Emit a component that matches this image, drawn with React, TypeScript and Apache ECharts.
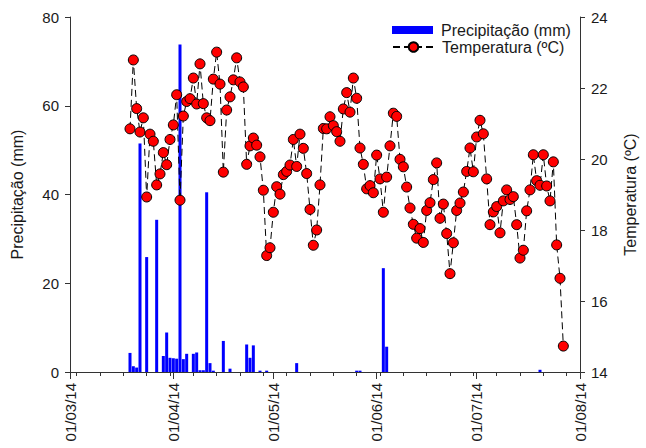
import React, { useEffect, useRef } from 'react';
import * as echarts from 'echarts';

// x axis: daily categories from 01/03/2014 to 01/08/2014
const AXIS_START = [2014, 2, 1]; // year, month(0-based), day
const AXIS_END = [2014, 7, 1];
const SERIES_START = [2014, 2, 19]; // first observation

const precipLabel = 'Precipitação (mm)';
const tempLabel = 'Temperatura (ºC)';

// daily mean temperature (ºC), 19/03/2014 ... 27/07/2014
const temperatura = [
  20.85, 22.79, 21.42, 20.76, 21.16, 18.93, 20.7, 20.5, 19.27, 19.58,
  20.18, 19.84, 20.55, 20.96, 21.81, 18.84, 21.21, 21.62, 21.7, 22.28,
  21.55, 22.68, 21.56, 21.16, 21.08, 22.25, 23.01, 22.11, 19.63, 21.38,
  21.75, 22.23, 22.85, 22.17, 22.03, 19.85, 20.37, 20.59, 20.39, 20.06,
  19.12, 17.28, 17.5, 18.5, 19.22, 19.01, 19.56, 19.65, 19.83, 20.55,
  19.79, 20.7, 20.3, 19.59, 18.58, 17.57, 18.0, 19.27, 20.86, 20.85,
  21.19, 20.94, 20.77, 20.5, 21.41, 21.87, 21.32, 22.28, 21.71, 20.31,
  19.85, 19.16, 19.25, 19.05, 20.11, 19.44, 18.5, 19.49, 20.37, 21.29,
  21.2, 19.99, 19.78, 19.21, 18.62, 18.16, 17.77, 18.04, 17.65, 18.55,
  18.77, 19.42, 19.89, 18.33, 18.73, 17.9, 16.77, 17.64, 18.55, 18.76,
  19.07, 19.65, 20.31, 19.64, 20.62, 21.09, 20.71, 19.44, 18.15, 18.51,
  18.66, 17.92, 18.82, 19.13, 18.86, 18.94, 18.15, 17.21, 17.43, 18.54,
  19.13, 20.12, 19.39, 19.26, 20.12, 19.24, 18.82, 19.92, 17.58, 16.64,
  14.73,
];

// daily precipitation (mm), same days as temperatura
const precipitacao = [
  4.3, 1.3, 1.0, 51.5, 0, 25.9, 0, 0, 34.3, 0,
  3.6, 8.9, 3.2, 3.1, 3.0, 73.8, 2.9, 4.1, 0, 4.1,
  4.4, 0.4, 0.4, 40.5, 2.0, 0.3, 0, 0, 7.0, 0,
  0.75, 0, 0, 0, 0, 6.2, 3.2, 6.0, 0, 0.3,
  0, 0.3, 0, 0, 0, 0, 0, 0, 0, 0,
  2.0, 0, 0, 0, 0, 0, 0, 0, 0, 0,
  0, 0, 0, 0, 0, 0, 0, 0, 0.3, 0.3,
  0, 0, 0, 0, 0, 0, 23.4, 5.7, 0, 0,
  0, 0, 0, 0, 0, 0, 0, 0, 0, 0,
  0, 0, 0, 0, 0, 0, 0, 0, 0, 0,
  0, 0, 0, 0, 0, 0, 0, 0, 0, 0,
  0, 0, 0, 0, 0, 0, 0, 0, 0, 0,
  0, 0, 0, 0.5, 0, 0, 0, 0, 0, 0,
  0,
];

const leftTicks = { min: 0, max: 80, interval: 20 };
const rightTicks = { min: 14, max: 24, interval: 2 };

const FONT = '"Liberation Sans", Arial, Helvetica, sans-serif';
const TEXT = '#1a1a1a';
const AXIS = '#333333';

function buildDays(): Date[] {
  const out: Date[] = [];
  const d = new Date(Date.UTC(AXIS_START[0], AXIS_START[1], AXIS_START[2]));
  const end = Date.UTC(AXIS_END[0], AXIS_END[1], AXIS_END[2]);
  while (d.getTime() <= end) {
    out.push(new Date(d.getTime()));
    d.setUTCDate(d.getUTCDate() + 1);
  }
  return out;
}

const pad = (n: number) => (n < 10 ? '0' + n : '' + n);
const fmt = (d: Date) =>
  pad(d.getUTCDate()) + '/' + pad(d.getUTCMonth() + 1) + '/' + pad(d.getUTCFullYear() % 100);

export default function App() {
  const ref = useRef<HTMLDivElement>(null);

  useEffect(() => {
    if (!ref.current) return;
    const chart = echarts.init(ref.current, undefined, { renderer: 'svg' });

    const days = buildDays();
    const cats = days.map(fmt);
    const startMs = Date.UTC(SERIES_START[0], SERIES_START[1], SERIES_START[2]);
    const offset = days.findIndex((d) => d.getTime() === startMs);
    const tempData: (number | null)[] = days.map(() => null);
    const precData: (number | null)[] = days.map(() => null);
    temperatura.forEach((v, i) => (tempData[offset + i] = v));
    precipitacao.forEach((v, i) => (precData[offset + i] = v));

    const isMonday = (i: number) => days[i] && days[i].getUTCDay() === 1;
    const isMonthStart = (i: number) => days[i] && days[i].getUTCDate() === 1;

    const option: any = {
      animation: false,
      backgroundColor: '#ffffff',
      textStyle: { fontFamily: FONT },
      grid: { left: 70, right: 58, top: 17, bottom: 76, containLabel: false },
      legend: [
        {
          data: [precipLabel],
          left: 392,
          top: 22,
          padding: 0,
          itemWidth: 41,
          itemHeight: 8,
          icon: 'rect',
          selectedMode: false,
          textStyle: { fontSize: 16, color: TEXT, fontFamily: FONT, padding: [0, 0, 0, 3] },
        },
        {
          data: [tempLabel],
          left: 392,
          top: 39,
          padding: 0,
          itemWidth: 41,
          itemHeight: 12,
          selectedMode: false,
          textStyle: { fontSize: 16, color: TEXT, fontFamily: FONT, padding: [0, 0, 0, 3] },
        },
      ],
      xAxis: [
        {
          type: 'category',
          data: cats,
          boundaryGap: false,
          position: 'bottom',
          axisLine: { show: true, onZero: false, lineStyle: { color: AXIS, width: 1 } },
          axisTick: { show: true, interval: (i: number) => isMonday(i), length: 4, lineStyle: { color: AXIS } },
          axisLabel: {
            show: true,
            interval: (i: number) => isMonthStart(i),
            rotate: 90,
            margin: 11,
            fontSize: 15,
            color: TEXT,
            fontFamily: FONT,
          },
          splitLine: { show: false },
        },
        {
          type: 'category',
          data: cats,
          boundaryGap: false,
          position: 'bottom',
          axisLine: { show: false, onZero: false },
          axisTick: { show: true, interval: (i: number) => isMonthStart(i), length: 7, lineStyle: { color: AXIS } },
          axisLabel: { show: false },
          splitLine: { show: false },
        },
      ],
      yAxis: [
        {
          type: 'value',
          min: leftTicks.min,
          max: leftTicks.max,
          interval: leftTicks.interval,
          position: 'left',
          name: precipLabel,
          nameLocation: 'middle',
          nameRotate: 90,
          nameGap: 45,
          nameTextStyle: { fontSize: 16, color: TEXT, fontFamily: FONT },
          axisLine: { show: true, lineStyle: { color: AXIS, width: 1 } },
          axisTick: { show: true, length: 5, lineStyle: { color: AXIS } },
          axisLabel: { fontSize: 15, color: TEXT, margin: 11, fontFamily: FONT },
          splitLine: { show: false },
        },
        {
          type: 'value',
          min: rightTicks.min,
          max: rightTicks.max,
          interval: rightTicks.interval,
          position: 'right',
          name: tempLabel,
          nameLocation: 'middle',
          nameRotate: 90,
          nameGap: 42,
          nameTextStyle: { fontSize: 16, color: TEXT, fontFamily: FONT },
          axisLine: { show: true, lineStyle: { color: AXIS, width: 1 } },
          axisTick: { show: true, length: 5, lineStyle: { color: AXIS } },
          axisLabel: { fontSize: 15, color: TEXT, margin: 11, fontFamily: FONT },
          splitLine: { show: false },
        },
      ],
      series: [
        {
          name: precipLabel,
          type: 'bar',
          xAxisIndex: 0,
          yAxisIndex: 0,
          data: precData,
          barWidth: 3,
          itemStyle: { color: '#0000ff' },
          z: 2,
        },
        {
          name: tempLabel,
          type: 'line',
          xAxisIndex: 0,
          yAxisIndex: 1,
          data: tempData,
          symbol: 'circle',
          symbolSize: 10,
          showAllSymbol: true,
          connectNulls: false,
          itemStyle: { color: '#ff0000', borderColor: '#000000', borderWidth: 1 },
          lineStyle: { color: '#000000', width: 1, type: [7, 4] },
          z: 3,
        },
      ],
    };

    chart.setOption(option);
    return () => chart.dispose();
  }, []);

  return (
    <div
      ref={ref}
      style={{ position: 'absolute', left: 0, top: 0, width: 646, height: 448, background: '#fff' }}
    />
  );
}
